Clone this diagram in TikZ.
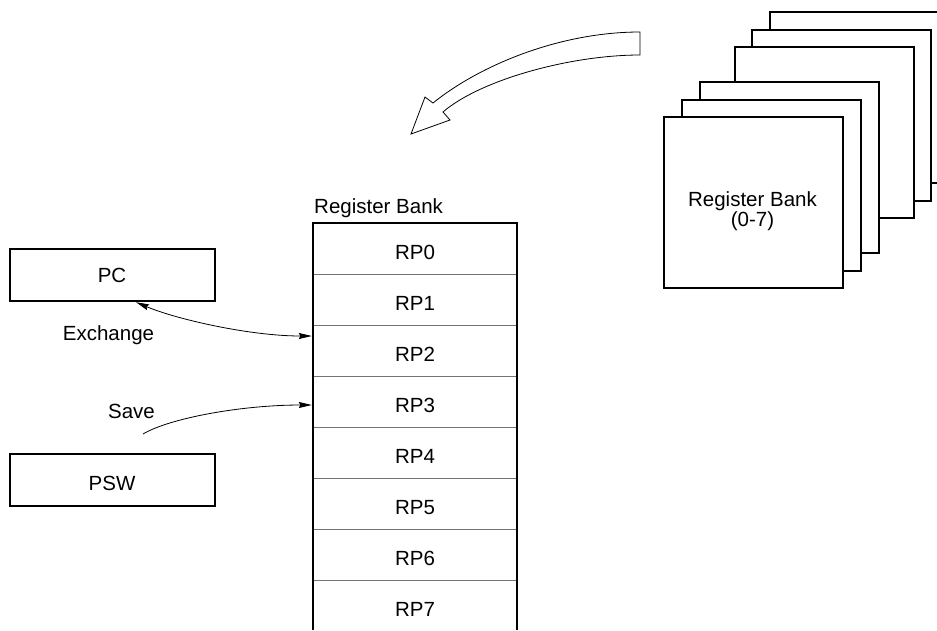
\documentclass[tikz,border=0pt]{standalone}
\usepackage{fontspec}
\setmainfont{Liberation Sans}
\usetikzlibrary{arrows.meta}
\begin{document}
\begin{tikzpicture}[x=1pt,y=-1pt,
  txt/.style={font=\fontsize{20.5}{24}\selectfont, inner sep=0pt},
  heavy/.style={draw=black, line width=2.2pt},
  bankbox/.style={heavy, fill=white, minimum width=179pt, minimum height=171pt, inner sep=0pt, anchor=north west},
  regbox/.style={heavy, fill=white, minimum width=205pt, minimum height=52pt, inner sep=0pt, anchor=north west},
  rowcell/.style={minimum width=204pt, minimum height=51pt, inner sep=0pt},
  sep/.style={draw=black!55, line width=0.8pt},
  link/.style={line width=0.8pt},
  ptr/.tip={Stealth[length=13pt,width=6pt,inset=1.5pt]},
  bigarrow/.style={draw=black, line width=0.8pt, fill=white}]
\useasboundingbox (0,0) rectangle (937,630);
\clip (0,0) rectangle (937,630);

% stack of register banks (back to front)
\node[bankbox] (b6) at (768.5,11) {};
\node[bankbox] (b5) at (751,28.5) {};
\node[bankbox] (b4) at (733.5,46) {};
\node[bankbox] (b3) at (698.5,81) {};
\node[bankbox] (b2) at (681,98.5) {};
\node[bankbox] (b1) at (663,116) {};
\node[txt, anchor=base] (banktxt) at (752.5,206) {Register Bank};
\node[txt, anchor=base] (bankrange) at (752.5,226.5) {(0-7)};

% hollow curved arrow
\draw[bigarrow] (640,32) .. controls (560,32) and (480,65) .. (433,103)
  -- (425,97) -- (411,134) -- (450,120) -- (443,112)
  .. controls (480,80) and (570,55) .. (640,55) -- cycle;

% register bank column
\node[txt, anchor=base west] (rbtitle) at (314,213) {Register Bank};
\foreach \i in {0,...,7} {
  \node[rowcell] (rp\i) at (415,{248.5+51*\i}) {};
  \node[txt, anchor=base] (rpl\i) at (415,{259+51*\i}) {RP\i};
}
\foreach \i in {0,...,6} {
  \draw[sep] (rp\i.south west) -- (rp\i.south east);
}
\draw[heavy] (313,630) -- (313,223) -- (517,223) -- (517,630);

% PC and PSW
\node[regbox] (pc) at (9,248) {};
\node[txt, anchor=base] (pctxt) at (112,282) {PC};
\node[regbox] (psw) at (9,453) {};
\node[txt, anchor=base] (pswtxt) at (112,490) {PSW};

\node[txt, anchor=base] (exch) at (108.5,340) {Exchange};
\node[txt, anchor=base] (save) at (131.5,418) {Save};

% connectors
\draw[link, ptr-ptr] ([xshift=23.5pt]pc.south) .. controls +(40,17) and +(-62,0) .. ([xshift=-1pt,yshift=14.5pt]rp2.west);
\coordinate (savefrom) at (143,434);
\draw[link, -ptr] (savefrom) .. controls +(27,-16) and +(-70,0) .. ([xshift=-1pt,yshift=-3.5pt]rp3.west);
\end{tikzpicture}
\end{document}
